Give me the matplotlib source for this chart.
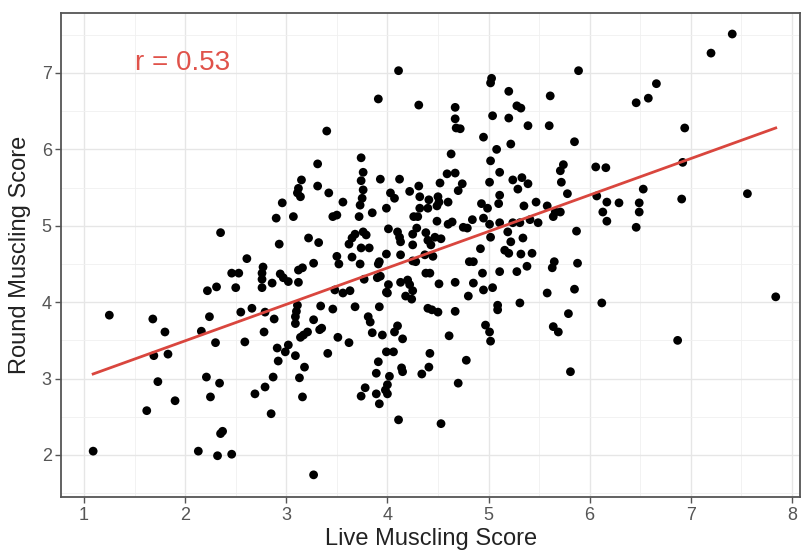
import numpy as np
import matplotlib
matplotlib.use("Agg")
import matplotlib.pyplot as plt
from matplotlib.ticker import MultipleLocator

plt.rcParams['font.family'] = ['Liberation Sans', 'DejaVu Sans']

live_score = [
    1.80, 2.16, 2.30, 2.59, 2.78, 1.69, 1.83, 1.73, 2.21, 2.34, 2.25, 1.90, 1.62, 2.37, 2.35, 2.13, 2.32, 2.46, 1.09,
    2.91, 3.02, 2.99, 3.09, 2.92, 3.14, 3.18, 3.13, 3.16, 2.87, 2.79, 2.69, 2.85, 3.27,
    3.21, 3.33, 3.17, 3.51, 3.62, 3.41, 3.85, 3.95, 4.07, 4.15, 3.99, 4.06, 3.91, 3.89, 4.02, 4.14, 4.15,
    3.78, 3.74, 3.89, 4.00, 3.98, 4.00, 3.92, 4.11, 4.42, 4.41, 4.34, 4.61, 4.78, 4.70, 4.53, 5.01, 5.02,
    5.69, 5.81, 6.87,
    5.71, 5.74, 6.06, 6.16, 5.72, 5.78, 5.66, 5.64, 5.71, 5.87, 6.07, 6.17, 6.29, 6.13, 6.17, 6.49, 6.49,
    6.46, 6.53, 6.91, 7.56, 5.65, 5.63, 5.88, 5.58, 5.85, 6.12, 5.79, 5.64, 7.84,
    7.41, 7.20, 5.89, 6.66, 6.58, 6.46, 5.61, 5.60, 5.85, 6.94, 6.92,
    4.11, 3.91, 4.31, 3.40, 3.31, 3.74, 3.76, 4.67, 4.67, 4.68, 4.72, 4.63, 4.67, 4.59, 5.03, 5.02, 5.20,
    5.28, 5.32, 5.04, 5.20, 5.39, 4.95, 5.08, 5.22, 5.02, 5.11,
    3.15, 3.12, 3.11, 3.14, 2.96, 2.90, 3.07, 2.35, 3.22, 2.93, 2.61, 2.77, 2.46, 2.53, 2.76, 2.76, 2.94,
    2.97, 3.02, 3.12, 2.86, 3.12, 2.76, 2.22, 2.31, 2.50, 1.25, 1.68, 2.24, 2.55, 2.66, 2.79, 2.88, 3.11,
    3.10, 3.09, 3.09,
    3.74, 3.93, 4.12, 3.31, 3.42, 3.76, 3.75, 4.03, 4.07, 4.22, 4.31, 4.52, 4.74, 4.70, 5.01, 5.11, 5.24,
    5.33, 5.39, 5.29, 3.56, 3.73, 4.32, 4.41, 4.50, 4.51, 4.60, 4.32, 4.40, 4.49, 3.99, 4.93, 4.99, 5.10,
    5.47, 5.35, 5.58, 3.46, 3.50, 3.72, 3.85, 4.26, 4.30, 4.29, 4.49, 4.60, 4.64, 4.75, 4.79, 4.84, 4.95,
    5.01, 5.11, 5.24, 5.31, 5.41, 5.49, 3.32, 3.68, 3.65, 3.76, 3.79, 3.62, 3.74, 3.82, 4.01, 4.10, 4.12,
    4.13, 4.25, 4.25, 4.38, 4.40, 4.43, 4.47, 4.53, 5.02, 5.19, 5.22, 5.34, 5.16, 5.20, 4.92, 5.32, 5.43,
    3.50, 3.52, 3.65, 3.73, 3.27, 3.16, 3.91, 3.92, 3.99, 4.13, 4.25, 4.28, 4.37, 4.45, 4.81, 4.85, 4.94,
    5.11, 5.28, 5.38, 3.77, 3.93, 3.90, 4.01, 4.13, 4.20, 4.22, 4.25, 4.38, 4.42, 4.51, 4.67, 4.85, 4.95,
    5.04, 3.48, 3.56, 3.63, 3.99, 4.00, 4.18, 4.24, 4.80, 5.09, 5.09, 5.31, 3.34, 3.46, 3.68, 3.92, 4.40,
    4.44, 4.50, 4.67, 3.27, 3.81, 3.83, 4.10, 4.97, 3.35,
]

round_score = [
    3.61, 3.62, 3.47, 3.48, 3.61, 3.30, 3.32, 2.96, 3.02, 2.94, 2.76, 2.71, 2.58, 2.31, 2.28, 2.05, 1.99, 2.01, 2.05,
    3.40, 3.44, 3.35, 3.30, 3.23, 3.54, 3.15, 3.01, 2.76, 3.02, 2.89, 2.80, 2.54, 1.74,
    3.61, 3.64, 3.57, 3.54, 3.47, 3.33, 3.60, 3.57, 3.61, 3.52, 3.35, 3.35, 3.22, 3.07, 3.03, 3.14, 3.09,
    2.88, 2.77, 2.80, 2.92, 2.85, 2.80, 2.67, 2.46, 3.33, 3.15, 3.06, 3.56, 3.24, 2.94, 2.41, 3.61, 3.49,
    3.61, 3.09, 3.50,
    5.72, 5.80, 5.77, 5.76, 5.57, 5.42, 5.18, 5.12, 5.18, 4.93, 5.39, 5.31, 5.30, 5.18, 5.06, 5.30, 5.18,
    4.98, 5.48, 5.35, 5.42, 4.53, 4.45, 4.51, 4.12, 4.17, 3.99, 3.85, 3.68, 4.07,
    7.51, 7.26, 7.03, 6.86, 6.67, 6.61, 6.70, 6.31, 6.10, 6.28, 5.83,
    7.03, 6.66, 6.58, 6.24, 5.81, 5.89, 5.70, 6.55, 6.40, 6.28, 6.27, 5.94, 5.69, 5.68, 6.93, 6.87, 6.76,
    6.57, 6.54, 6.44, 6.41, 6.31, 6.16, 6.00, 6.07, 5.85, 5.70,
    5.60, 5.49, 5.43, 5.38, 5.30, 5.10, 5.12, 4.91, 4.84, 4.76, 4.57, 4.46, 4.38, 4.38, 4.38, 4.30, 4.37,
    4.32, 4.27, 4.42, 4.25, 4.26, 4.19, 4.15, 4.20, 4.19, 3.83, 3.78, 3.81, 3.87, 3.92, 3.87, 3.78, 3.96,
    3.88, 3.81, 3.72,
    5.59, 5.61, 5.61, 5.52, 5.43, 5.47, 5.36, 5.43, 5.36, 5.45, 5.52, 5.56, 5.55, 5.46, 5.57, 5.40, 5.60,
    5.63, 5.55, 5.48, 5.31, 5.27, 5.38, 5.34, 5.38, 5.31, 5.31, 5.23, 5.23, 5.26, 5.23, 5.29, 5.23, 5.29,
    5.31, 5.26, 5.26, 5.12, 5.14, 5.12, 5.17, 5.12, 5.12, 4.97, 5.06, 5.02, 5.05, 4.98, 4.97, 5.08, 5.10,
    5.02, 5.04, 5.04, 5.04, 5.08, 5.04, 4.78, 4.89, 4.84, 4.92, 4.88, 4.76, 4.71, 4.71, 4.96, 4.92, 4.85,
    4.79, 4.89, 4.75, 4.91, 4.81, 4.75, 4.85, 4.83, 4.85, 4.92, 4.79, 4.84, 4.68, 4.64, 4.70, 4.63, 4.64,
    4.60, 4.50, 4.59, 4.50, 4.51, 4.45, 4.50, 4.53, 4.63, 4.62, 4.54, 4.53, 4.62, 4.60, 4.53, 4.53, 4.38,
    4.40, 4.40, 4.47, 4.30, 4.34, 4.32, 4.23, 4.26, 4.29, 4.23, 4.15, 4.38, 4.38, 4.24, 4.26, 4.25, 4.16,
    4.19, 4.16, 4.12, 4.15, 4.13, 4.12, 4.08, 4.04, 4.08, 3.96, 3.90, 3.99, 3.95, 3.91, 3.94, 3.94, 3.92,
    3.90, 3.87, 3.88, 3.77, 3.81, 3.74, 3.69, 3.70, 3.66,
]

r_label = "r = 0.53"
x_label = "Live Muscling Score"
y_label = "Round Muscling Score"
x_ticks = [1, 2, 3, 4, 5, 6, 7, 8]
y_ticks = [2, 3, 4, 5, 6, 7]

x = np.array(live_score)
y = np.array(round_score)

fig = plt.figure(figsize=(8.01, 5.54), dpi=100)
ax = fig.add_axes([61.5 / 801, 1 - 497 / 554, (800 - 61.5) / 801, (497 - 13) / 554])

ax.set_xlim(0.777, 8.08)
ax.set_ylim(1.45, 7.785)

ax.xaxis.set_minor_locator(MultipleLocator(0.5))
ax.yaxis.set_minor_locator(MultipleLocator(0.5))
ax.set_xticks(x_ticks)
ax.set_yticks(y_ticks)

ax.grid(which='major', color='#e6e6e6', linewidth=1.0, zorder=0)
ax.grid(which='minor', color='#f0f0f0', linewidth=0.6, zorder=0)
ax.set_axisbelow(True)

ax.scatter(x, y, s=40, color='black', edgecolors='none', zorder=3)

slope, intercept = np.polyfit(x, y, 1)
xs = np.array([x.min(), x.max()])
ax.plot(xs, slope * xs + intercept, color='#d9463e', linewidth=2.0, zorder=4)

ax.text(1.5, 7.13, r_label, color='#e0524a', fontsize=20, ha='left', va='center')

for sp in ax.spines.values():
    sp.set_color('#555555')
    sp.set_linewidth(1.3)

ax.tick_params(which='major', length=4, width=1.0, color='#555555', labelsize=13,
               labelcolor='#555555', pad=3)
ax.tick_params(which='minor', length=0)

ax.set_xlabel(x_label, fontsize=17, color='#222222', labelpad=3)
ax.set_ylabel(y_label, fontsize=17, color='#222222', labelpad=8)

fig.savefig('out.png', dpi=100)
